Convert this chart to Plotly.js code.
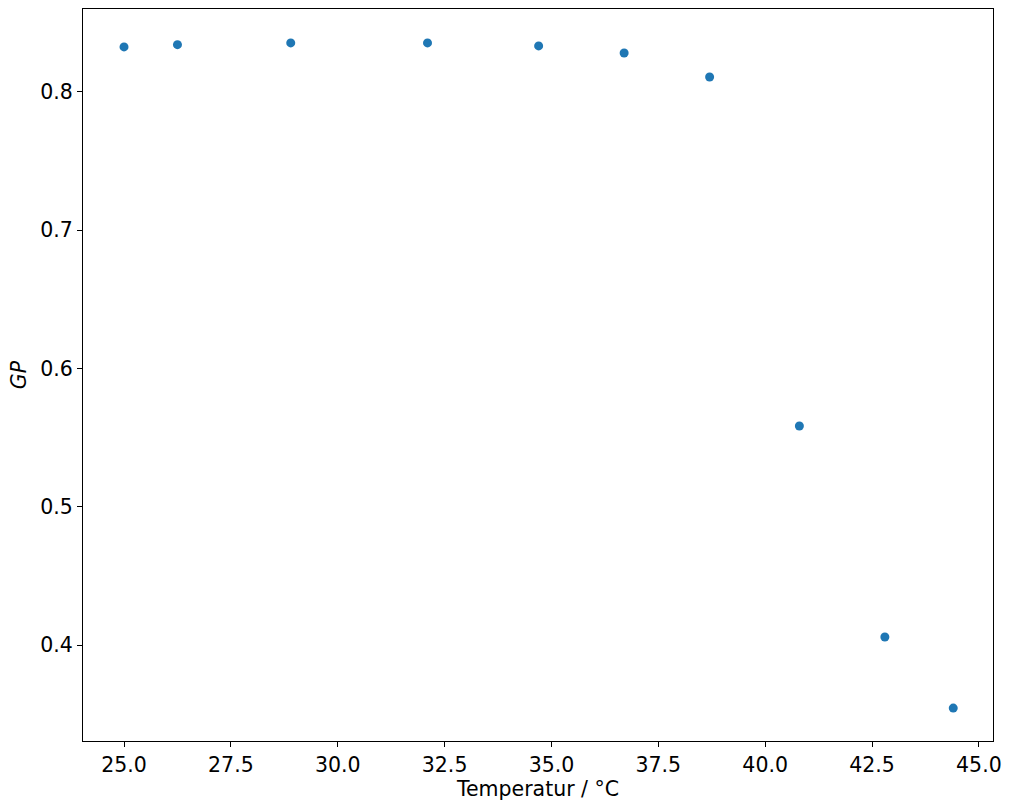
<!DOCTYPE html>
<html>
<head>
<meta charset="utf-8">
<script src="https://cdn.plot.ly/plotly-3.0.1.min.js"></script>
<style>
  html, body { margin: 0; padding: 0; background: #fff; }
  #chart { width: 1011px; height: 811px; }
</style>
</head>
<body>
<div id="chart"></div>
<script>
// temperature (°C) and GP values
const temperature = [25.0, 26.25, 28.9, 32.1, 34.7, 36.7, 38.7, 40.8, 42.8, 44.4];
const gp = [0.8326, 0.8342, 0.8355, 0.8355, 0.8333, 0.8282, 0.8108, 0.5584, 0.4058, 0.3544];

const trace = {
    x: temperature,
    y: gp,
    mode: "markers",
    type: "scatter",
    marker: { size: 9, color: "#1f77b4" },
    hoverinfo: "x+y"
};

const axisCommon = {
    showgrid: false,
    zeroline: false,
    showline: true,
    linecolor: "black",
    linewidth: 1,
    mirror: true,
    ticks: "outside",
    ticklen: 5,
    tickwidth: 1,
    tickcolor: "black",
    tickfont: { size: 20.5, color: "black" },
    tickformat: ".1f"
};

const layout = {
    width: 1011,
    height: 811,
    font: { family: "DejaVu Sans, sans-serif", color: "black" },
    paper_bgcolor: "white",
    plot_bgcolor: "white",
    showlegend: false,
    margin: { l: 83, r: 18, t: 9, b: 70 },
    xaxis: Object.assign({}, axisCommon, {
        title: { text: "Temperatur / °C", font: { size: 20.5 }, standoff: 6 },
        range: [24.04, 45.33],
        tick0: 25,
        dtick: 2.5
    }),
    yaxis: Object.assign({}, axisCommon, {
        title: { text: "<i>GP</i>", font: { size: 20.5 }, standoff: 8 },
        range: [0.3306, 0.86],
        tick0: 0.4,
        dtick: 0.1
    })
};

Plotly.newPlot("chart", [trace], layout, { displayModeBar: false, staticPlot: true });
</script>
</body>
</html>
